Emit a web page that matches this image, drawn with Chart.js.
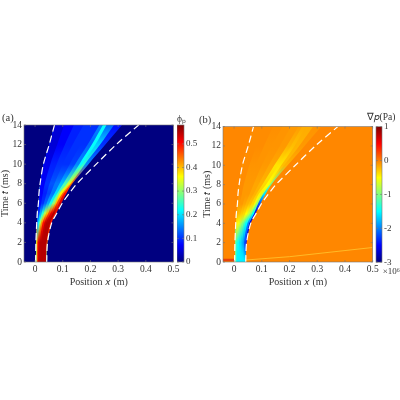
<!DOCTYPE html>
<html>
<head>
<meta charset="utf-8">
<script src="https://cdn.jsdelivr.net/npm/chart.js@4"></script>
<style>
html, body { margin: 0; padding: 0; background: #fff; width: 400px; height: 400px; overflow: hidden; }
canvas { position: absolute; }
</style>
</head>
<body>
<canvas id="plot_a" width="190" height="182" style="left:0px;top:105px"></canvas>
<canvas id="plot_b" width="188" height="182" style="left:199px;top:105px"></canvas>
<canvas id="bar_a" width="23" height="172" style="left:177px;top:105px"></canvas>
<canvas id="bar_b" width="38" height="172" style="left:362px;top:105px"></canvas>
<script>
const x_ticks = [0, 0.1, 0.2, 0.3, 0.4, 0.5];
const t_ticks = [0, 2, 4, 6, 8, 10, 12, 14];
const phi_ticks = [0, 0.1, 0.2, 0.3, 0.4, 0.5];
const grad_ticks = [-3, -2, -1, 0, 1];

// rows of the field, ms
const times = [0, 2, 4, 5, 6, 7, 8, 10, 12, 14];

// the two white dashed fronts
const dash_left = [0.002, 0.003, 0.006, 0.008, 0.012, 0.014, 0.018, 0.030, 0.051, 0.070];
const dash_right = [0.042, 0.045, 0.060, 0.079, 0.098, 0.123, 0.151, 0.221, 0.293, 0.374];

// edges of the streaks, left to right, x at each row
const edge_0 = [0.003, 0.004, 0.007, 0.009, 0.013, 0.015, 0.019, 0.031, 0.052, 0.071];
const edge_1 = [0.006, 0.007, 0.011, 0.016, 0.022, 0.028, 0.035, 0.055, 0.080, 0.105];
const edge_2 = [0.010, 0.010, 0.016, 0.024, 0.032, 0.042, 0.052, 0.078, 0.108, 0.140];
const edge_3 = [0.016, 0.014, 0.021, 0.032, 0.042, 0.056, 0.070, 0.100, 0.136, 0.175];
const edge_4 = [0.024, 0.018, 0.027, 0.040, 0.052, 0.070, 0.088, 0.125, 0.165, 0.205];
const edge_5 = [0.030, 0.024, 0.034, 0.048, 0.062, 0.080, 0.102, 0.145, 0.190, 0.232];
const edge_6 = [0.035, 0.030, 0.040, 0.056, 0.072, 0.088, 0.115, 0.160, 0.205, 0.245];
const edge_7 = [0.038, 0.036, 0.048, 0.064, 0.078, 0.098, 0.124, 0.170, 0.218, 0.258];
const edge_8 = [0.040, 0.042, 0.055, 0.072, 0.086, 0.104, 0.129, 0.180, 0.235, 0.285];
const edge_9 = [0.042, 0.045, 0.060, 0.077, 0.095, 0.113, 0.134, 0.193, 0.254, 0.314];
const streak_edges = [edge_1, edge_2, edge_3, edge_4, edge_5, edge_6, edge_7, edge_8, edge_9];

// particle fraction in each streak at each row
const phi_1 = [0.30, 0.35, 0.14, 0.10, 0.08, 0.07, 0.07, 0.06, 0.05, 0.05];
const phi_2 = [0.47, 0.45, 0.22, 0.17, 0.10, 0.09, 0.10, 0.09, 0.07, 0.07];
const phi_3 = [0.54, 0.52, 0.32, 0.24, 0.13, 0.11, 0.12, 0.10, 0.09, 0.09];
const phi_4 = [0.55, 0.54, 0.42, 0.32, 0.17, 0.14, 0.14, 0.10, 0.10, 0.10];
const phi_5 = [0.55, 0.55, 0.50, 0.40, 0.23, 0.20, 0.18, 0.11, 0.10, 0.10];
const phi_6 = [0.55, 0.55, 0.54, 0.47, 0.30, 0.27, 0.26, 0.15, 0.13, 0.15];
const phi_7 = [0.55, 0.55, 0.55, 0.52, 0.40, 0.37, 0.33, 0.22, 0.22, 0.22];
const phi_8 = [0.54, 0.55, 0.55, 0.55, 0.47, 0.45, 0.38, 0.24, 0.19, 0.13];
const phi_9 = [0.25, 0.45, 0.50, 0.50, 0.53, 0.50, 0.45, 0.15, 0.10, 0.08];
const phi_values = [phi_1, phi_2, phi_3, phi_4, phi_5, phi_6, phi_7, phi_8, phi_9];

// pressure gradient in each streak at each row, 1e6 Pa
const grad_1 = [-1.0, -1.0, -0.4, -0.2, -0.1, -0.05, -0.05, -0.05, -0.05, -0.05];
const grad_2 = [-1.4, -1.3, -0.5, -0.25, -0.1, -0.1, -0.1, -0.08, -0.05, -0.05];
const grad_3 = [-1.55, -1.4, -0.6, -0.3, -0.15, -0.1, -0.1, -0.08, -0.08, -0.06];
const grad_4 = [-1.55, -1.5, -0.8, -0.35, -0.2, -0.15, -0.15, -0.1, -0.08, -0.08];
const grad_5 = [-1.55, -1.6, -1.0, -0.5, -0.25, -0.2, -0.2, -0.15, -0.1, -0.1];
const grad_6 = [-1.55, -1.7, -1.25, -0.7, -0.35, -0.3, -0.35, -0.4, -0.2, -0.12];
const grad_7 = [-1.55, -1.9, -1.5, -1.0, -0.55, -0.45, -0.5, -0.4, -0.24, -0.17];
const grad_8 = [-1.55, -2.2, -2.0, -1.5, -0.9, -0.7, -0.6, -0.25, -0.2, -0.17];
const grad_9 = [-1.5, -2.5, -2.7, -2.6, -2.2, -1.6, -1.1, -0.2, -0.1, -0.08];
const grad_values = [grad_1, grad_2, grad_3, grad_4, grad_5, grad_6, grad_7, grad_8, grad_9];

// faint trace low on panel b, and the red strip left of the origin
const trace_x = [0.04, 0.2, 0.5];
const trace_t = [0.2, 0.55, 1.5];
const strip_x = [-0.04, 0];
const strip_t = [0.2, 0.2];

const serif = '"Liberation Serif", serif';
const text_color = '#333';

function ramp(v) {
    return Math.max(0, Math.min(1, v));
}

function jet(f) {
    const r = ramp(Math.min(4 * f - 1.5, 4.5 - 4 * f));
    const g = ramp(Math.min(4 * f - 0.5, 3.5 - 4 * f));
    const b = ramp(Math.min(4 * f + 0.5, 2.5 - 4 * f));
    return `rgb(${Math.round(r * 255)},${Math.round(g * 255)},${Math.round(b * 255)})`;
}

function points(xs, ts) {
    return xs.map((x, i) => ({x: x, y: ts[i]}));
}

const box_plugin = {
    id: 'box',
    beforeDatasetsDraw(chart, args, opts) {
        if (!opts.fill) return;
        const a = chart.chartArea;
        chart.ctx.fillStyle = opts.fill;
        chart.ctx.fillRect(a.left, a.top, a.right - a.left, a.bottom - a.top);
    },
    afterDraw(chart) {
        const a = chart.chartArea;
        const ctx = chart.ctx;
        ctx.save();
        ctx.strokeStyle = '#777';
        ctx.lineWidth = 0.6;
        ctx.strokeRect(a.left, a.top, a.right - a.left, a.bottom - a.top);
        ctx.beginPath();
        if (chart.scales.x && chart.scales.x.options.display) {
            chart.scales.x.ticks.forEach(t => {
                const px = chart.scales.x.getPixelForValue(t.value);
                ctx.moveTo(px, a.bottom);
                ctx.lineTo(px, a.bottom - 2);
                ctx.moveTo(px, a.top);
                ctx.lineTo(px, a.top + 2);
            });
        }
        chart.scales.y.ticks.forEach(t => {
            const py = chart.scales.y.getPixelForValue(t.value);
            ctx.moveTo(a.left, py);
            ctx.lineTo(a.left + 2, py);
            ctx.moveTo(a.right, py);
            ctx.lineTo(a.right - 2, py);
        });
        ctx.stroke();
        ctx.restore();
    }
};

function streak_color(values, lo, hi) {
    return function (c) {
        const chart = c.chart;
        if (!chart.chartArea) return 'rgba(0,0,0,0)';
        const y = chart.scales.y;
        const g = chart.ctx.createLinearGradient(0, y.getPixelForValue(0), 0, y.getPixelForValue(14));
        values.forEach((v, i) => g.addColorStop(times[i] / 14, jet((v - lo) / (hi - lo))));
        return g;
    };
}

function dash_dataset(xs) {
    return {data: points(xs, times), borderColor: '#fff', borderWidth: 1.2, borderDash: [7, 4],
            pointRadius: 0, fill: false, tension: 0.3};
}

function make_plot(id, title, values, lo, hi, rest, extras, pads) {
    const datasets = [dash_dataset(dash_left), dash_dataset(dash_right)].concat(extras);
    const base_index = datasets.length + streak_edges.length;
    streak_edges.forEach((edge, i) => {
        datasets.push({data: points(edge, times), borderWidth: 0, pointRadius: 0, tension: 0.3,
                       fill: base_index, backgroundColor: streak_color(values[i], lo, hi)});
    });
    datasets.push({data: points(edge_0, times), borderWidth: 0, pointRadius: 0, tension: 0.3, fill: false});

    return new Chart(document.getElementById(id).getContext('2d'), {
        type: 'line',
        data: {datasets: datasets},
        plugins: [box_plugin],
        options: {
            indexAxis: 'y',
            responsive: false,
            animation: false,
            layout: {padding: {left: pads.left, right: pads.right}},
            plugins: {
                legend: {display: false},
                tooltip: {enabled: false},
                box: {fill: jet((rest - lo) / (hi - lo))},
                title: {display: true, text: title, align: 'start', color: text_color,
                        font: {family: serif, size: 10.5, weight: 'normal', lineHeight: 1.2},
                        padding: {top: pads.top, bottom: 0}}
            },
            scales: {
                x: {
                    type: 'linear', min: -0.04, max: 0.5,
                    afterBuildTicks: s => { s.ticks = x_ticks.map(v => ({value: v})); },
                    afterFit: s => { s.height = 25; },
                    grid: {display: false, drawTicks: false},
                    border: {display: false},
                    ticks: {color: text_color, font: {family: serif, size: 9.5}, padding: 2,
                            maxRotation: 0, autoSkip: false, callback: v => String(v)},
                    title: {display: true, text: 'Position 𝑥 (m)', color: text_color,
                            font: {family: serif, size: 10, lineHeight: 1}, padding: 0}
                },
                y: {
                    type: 'linear', min: 0, max: 14,
                    afterBuildTicks: s => { s.ticks = t_ticks.map(v => ({value: v})); },
                    afterFit: s => { s.width = pads.axis; },
                    grid: {display: false, drawTicks: false},
                    border: {display: false},
                    ticks: {color: text_color, font: {family: serif, size: 9.5}, padding: 2,
                            autoSkip: false, callback: v => String(v)},
                    title: {display: true, text: 'Time 𝑡 (ms)', color: text_color,
                            font: {family: serif, size: 10, lineHeight: 1},
                            padding: {top: pads.title, bottom: 0}}
                }
            }
        }
    });
}

function make_bar(id, title, lo, hi, ticks, spacer, footer) {
    const scales = {
        x: {display: false},
        y: {
            type: 'linear', min: lo, max: hi, position: 'right',
            afterBuildTicks: s => { s.ticks = ticks.map(v => ({value: v})); },
            afterFit: s => { s.width = footer ? 18 : 16; },
            grid: {display: false, drawTicks: false},
            border: {display: false},
            ticks: {color: text_color, font: {family: serif, size: 9}, padding: 2,
                    autoSkip: false, callback: v => String(v)}
        }
    };
    // empty left axis keeps the centred title over the whole canvas
    if (spacer) {
        scales.spacer = {
            type: 'linear', position: 'left',
            afterFit: s => { s.width = spacer; },
            grid: {display: false, drawTicks: false},
            border: {display: false},
            ticks: {display: false}
        };
    }
    return new Chart(document.getElementById(id).getContext('2d'), {
        type: 'bar',
        data: {
            labels: [''],
            datasets: [{
                data: [[lo, hi]],
                barPercentage: 1,
                categoryPercentage: 1,
                backgroundColor: function (c) {
                    const chart = c.chart;
                    if (!chart.chartArea) return 'rgba(0,0,0,0)';
                    const a = chart.chartArea;
                    const g = chart.ctx.createLinearGradient(0, a.bottom, 0, a.top);
                    [0, 0.125, 0.375, 0.625, 0.875, 1].forEach(f => g.addColorStop(f, jet(f)));
                    return g;
                }
            }]
        },
        plugins: [box_plugin],
        options: {
            responsive: false,
            animation: false,
            layout: {padding: {top: 0, bottom: footer ? 0 : 15}},
            plugins: {
                legend: {display: false},
                tooltip: {enabled: false},
                title: {display: true, text: title, align: footer ? 'center' : 'start', color: text_color,
                        font: {family: serif, size: 9.5, weight: 'normal', lineHeight: 1.2},
                        padding: {top: footer ? 7 : 8.6, bottom: footer ? 3.3 : 0}},
                subtitle: {display: !!footer, text: footer || '', position: 'bottom', align: 'end',
                           color: text_color, font: {family: serif, size: 9, lineHeight: 1.2},
                           padding: {top: 4, bottom: 0}}
            },
            scales: scales
        }
    });
}

const trace_set = {data: points(trace_x, trace_t), borderColor: 'rgba(255,215,60,0.8)', borderWidth: 0.8,
                   pointRadius: 0, fill: false};
const strip_set = {data: points(strip_x, strip_t), borderColor: '#e8410a', borderWidth: 2.5,
                   pointRadius: 0, fill: false};

make_plot('plot_a', '(a)', phi_values, 0, 0.58, 0, [], {left: 2, right: 16.5, top: 7.4, axis: 22, title: -2});
make_plot('plot_b', '(b)', grad_values, -3, 1, -0.03, [trace_set, strip_set], {left: 0, right: 14.3, top: 9, axis: 24, title: 3});
make_bar('bar_a', 'ϕₚ', 0, 0.58, phi_ticks, 0, null);
make_bar('bar_b', '∇𝑝(Pa)', -3, 1, grad_ticks, 14, '×10⁶');
</script>
</body>
</html>
